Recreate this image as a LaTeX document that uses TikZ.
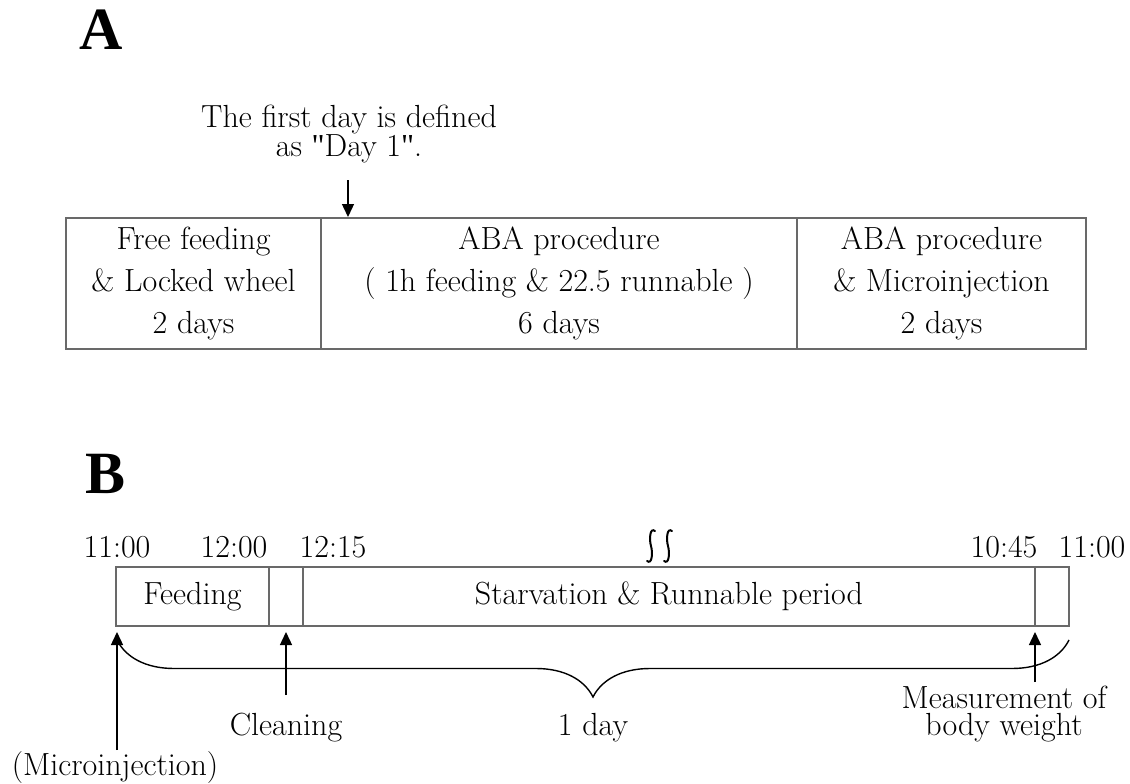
\documentclass[tikz,border=0pt]{standalone}
\usepackage{fontspec}
\newfontfamily\labfont{Liberation Serif}
\newfontfamily\qfont{Liberation Serif}[Ligatures=TeXOff]
\usetikzlibrary{arrows.meta,decorations.pathreplacing}
\definecolor{boxgray}{RGB}{105,105,105}
\newcommand{\sq}{{\qfont"}}
\begin{document}
\begin{tikzpicture}[x=1pt,y=-1pt,
  txt/.style={font=\fontsize{32}{42}\selectfont, inner sep=0pt, outer sep=0pt},
  panel/.style={font=\labfont\bfseries\fontsize{60}{60}\selectfont, inner sep=0pt},
  cellA/.style={draw=boxgray, line width=1.8pt, minimum height=131pt, inner sep=0pt, outer sep=0pt, align=center, font=\fontsize{32}{42}\selectfont},
  cellB/.style={draw=boxgray, line width=1.8pt, minimum height=59pt, inner sep=0pt, outer sep=0pt, font=\fontsize{32}{42}\selectfont},
  arr/.style={line width=1.4pt, -{Triangle[width=12pt,length=13pt]}},
  brc/.style={line width=1.4pt, decorate, decoration={brace, mirror, amplitude=57pt, aspect=0.5}},
  sqg/.style={line width=2pt, line cap=round}]
\useasboundingbox (0,0) rectangle (1130,784);

% ---------- Panel A ----------
\node[panel] (labA) at (101,30) {A};
\node[txt, align=center, font=\fontsize{32}{27}\selectfont] (note) at (349,134) {The first day is defined\\as \sq Day 1\sq .};

\node[cellA, minimum width=255pt] (a1) at (193.5,283.5) {Free feeding\\\& Locked wheel\\2 days};
\node[cellA, minimum width=476pt] (a2) at (559,283.5) {ABA procedure\\( 1h feeding \& 22.5 runnable )\\6 days};
\node[cellA, minimum width=289pt] (a3) at (941.5,283.5) {ABA procedure\\\& Microinjection\\2 days};

\coordinate (aS) at (348,180);
\coordinate (aE) at (348,217);
\draw[arr] (aS) -- (aE);

% ---------- Panel B ----------
\node[panel] (labB) at (106,474) {B};

\node[txt] (t1) at (117,547) {11:00};
\node[txt] (t2) at (234,547) {12:00};
\node[txt] (t3) at (333,547) {12:15};
\node[txt] (t4) at (1004,547) {10:45};
\node[txt] (t5) at (1092,547) {11:00};

% break mark
\foreach \cx in {651,668}{
  \draw[sqg] (\cx+4,531) .. controls (\cx-1,527) and (\cx-2,539) .. (\cx,546)
            .. controls (\cx+2,553) and (\cx+1,565) .. (\cx-4,561);
}

\node[cellB, minimum width=153pt] (b1) at (192.5,596.5) {Feeding};
\node[cellB, minimum width=34pt] (b2) at (286,596.5) {};
\node[cellB, minimum width=732pt] (b3) at (669,596.5) {Starvation \& Runnable period};
\node[cellB, minimum width=34pt] (b4) at (1052,596.5) {};

% brace
\coordinate (brL) at (117,640);
\coordinate (brR) at (1069,640);
\draw[brc] (brL) -- (brR);

% labels below
\node[txt, anchor=base] (mic) at (115,775) {(Microinjection)};
\node[txt, anchor=base] (cln) at (286,735) {Cleaning};
\node[txt, anchor=base] (day) at (593,735) {1 day};
\node[txt, anchor=base] (meas1) at (1004,708) {Measurement of};
\node[txt, anchor=base] (meas2) at (1004,735) {body weight};

% arrows
\coordinate (m1) at (117,750);
\coordinate (m2) at (117,632);
\draw[arr] (m1) -- (m2);
\coordinate (c1) at (286,695);
\coordinate (c2) at (286,632);
\draw[arr] (c1) -- (c2);
\coordinate (w1) at (1035,682);
\coordinate (w2) at (1035,632);
\draw[arr] (w1) -- (w2);
\end{tikzpicture}
\end{document}
